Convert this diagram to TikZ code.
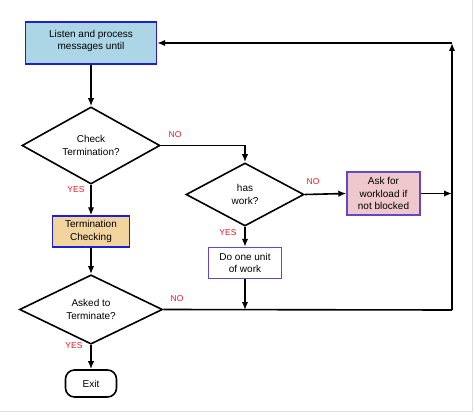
\documentclass[tikz,border=0pt]{standalone}
\usepackage{fontspec}
\setmainfont{Liberation Sans}
\usepackage{tikz}
\usetikzlibrary{arrows,arrows.meta,shapes,positioning,calc}
\definecolor{listenfill}{RGB}{172,214,230}
\definecolor{termfill}{RGB}{242,212,158}
\definecolor{askfill}{RGB}{238,200,204}
\definecolor{boxblue}{RGB}{30,30,215}
\definecolor{boxpurple}{RGB}{100,70,200}
\definecolor{labred}{RGB}{240,20,35}
\tikzstyle{box}=[rectangle, draw=boxblue, line width=1.4pt, align=center, inner sep=0pt]
\tikzstyle{test}=[diamond, draw=black, line width=1.6pt, align=center, inner sep=0pt]
\tikzstyle{stop}=[rectangle, rounded corners=9pt, draw=black, line width=1.6pt, inner sep=0pt]
\tikzstyle{lab}=[text=labred, font=\fontsize{8.5}{9}\selectfont]
\tikzstyle{arr}=[line width=1.6pt, -{Latex[length=8pt,width=6.5pt]}]
\tikzstyle{ln}=[line width=1.6pt]

\begin{document}
\begin{tikzpicture}[x=1pt, y=-1pt, font=\fontsize{10}{12.5}\selectfont]
        \useasboundingbox (0,0) rectangle (474,417);
        \draw[gray!25, line width=1pt] (472,0) -- (472,411) -- (0,411);
        %
        \node at (91,43) [box, fill=listenfill, minimum width=131pt, minimum height=42pt] (listen) {};
        \node at (91,41) [align=center] (listentxt) {Listen and process\\messages until};
        \node at (91,145.5) [test, minimum width=138pt, minimum height=71pt] (check) {Check\\Termination?};
        \node at (91,231.5) [box, fill=termfill, minimum width=77pt, minimum height=31pt] (term) {Termination\\Checking};
        \node at (91,309.5) [test, minimum width=143pt, minimum height=57pt] (asked) {Asked to\\Terminate?};
        \node at (91,383.5) [stop, minimum width=51pt, minimum height=27pt] (exit) {Exit};
        \node at (245,194.5) [test, minimum width=118pt, minimum height=63pt] (work) {has\\work?};
        \node at (245,263) [box, draw=boxpurple, minimum width=73pt, minimum height=31pt] (unit) {Do one unit\\of work};
        \node at (383.5,193.5) [box, draw=boxpurple, fill=askfill, minimum width=73pt, minimum height=43pt] (ask) {Ask for\\workload if\\not blocked};
        %
        \coordinate (ret) at (452,310);
        \coordinate (top) at (452,43);
        %
        \node at (175,135) [lab] (no1) {NO};
        \node at (76,190) [lab] (yes1) {YES};
        \node at (313,182) [lab] (no2) {NO};
        \node at (228,233) [lab] (yes2) {YES};
        \node at (177,299) [lab] (no3) {NO};
        \node at (74,346) [lab] (yes3) {YES};
        %
        \draw[arr] (listen) -- (check);
        \draw[arr] (check.east) -| (work.north);
        \draw[arr] (check) -- (term);
        \draw[arr] (term) -- (asked);
        \draw[arr] (asked) -- (exit);
        \draw[arr] (work.east) -- (ask.west);
        \draw[arr] (work) -- (unit);
        \draw[arr] (unit.south) -- (unit.south |- ret);
        \draw[arr] (ask.east) -- (ask.east -| ret);
        \draw[ln] (asked.east) -- (ret);
        \draw[arr] (ret) -- (top);
        \draw[arr] (top) -- (listen.east);
    \end{tikzpicture}
\end{document}
